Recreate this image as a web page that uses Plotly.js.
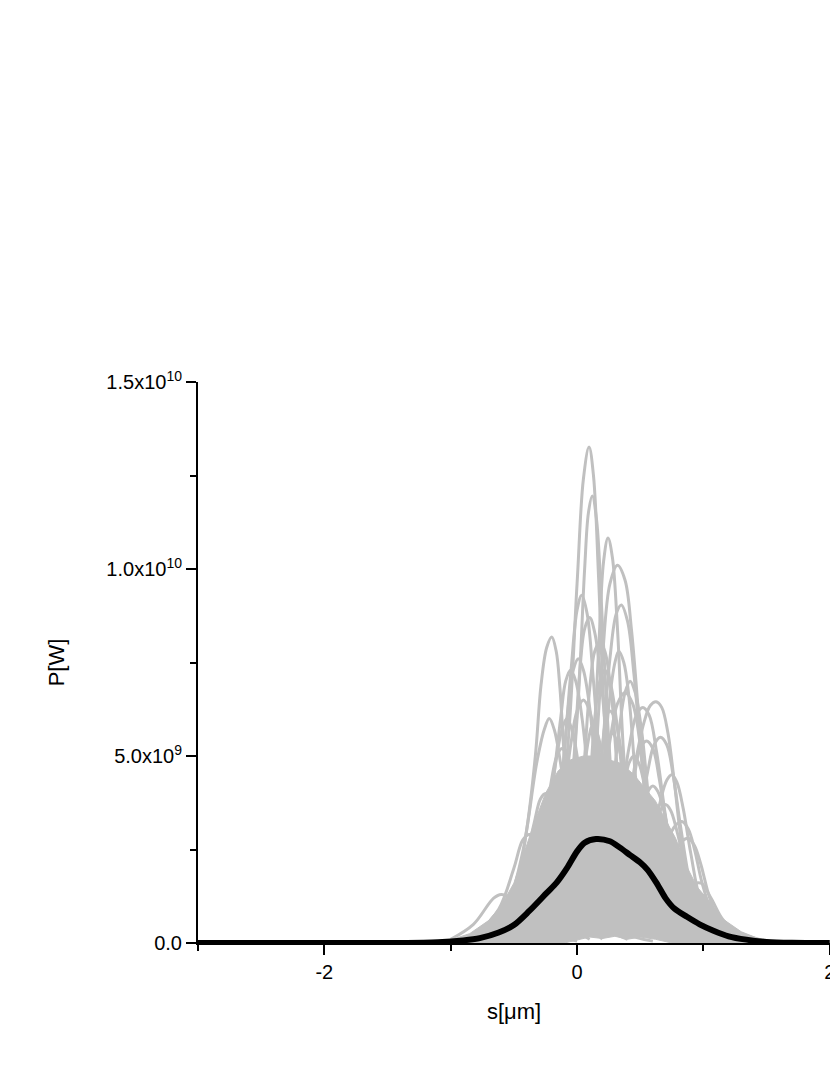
<!DOCTYPE html>
<html>
<head>
<meta charset="utf-8">
<script src="https://cdn.plot.ly/plotly-3.0.1.min.js"></script>
<style>
  body { margin: 0; background: #fff; }
  #chart { width: 830px; height: 1075px; }
</style>
</head>
<body>
<div id="chart"></div>
<script>
// power values below are in units of 1e9 W

// dense grey band under all shots: upper outline, then lower outline back
const coreTopS = [-1.2, -1.0, -0.85, -0.7, -0.6, -0.5, -0.42, -0.35, -0.25, -0.15, -0.05, 0.05, 0.15, 0.25, 0.35, 0.45, 0.55, 0.62, 0.7, 0.78, 0.86, 0.95, 1.05, 1.15, 1.3, 1.45, 1.65];
const coreTopP = [0, 0.08, 0.25, 0.6, 1.0, 1.6, 2.4, 3.1, 4.0, 4.6, 4.9, 5.0, 5.0, 4.9, 4.8, 4.5, 4.1, 3.8, 3.3, 2.8, 2.1, 1.5, 1.1, 0.65, 0.3, 0.1, 0];
const coreLowS = [0.75, 0.62, 0.5, 0.4, 0.3, 0.2, 0.1, 0.0, -0.1, -1.2];
const coreLowP = [0, 0.1, 0.16, 0.1, 0.18, 0.12, 0.16, 0.08, 0, 0];

// single shots, [s, P] pairs
const shots = [
    [[-0.4,0.5],[-0.2,2.0],[-0.08,5.0],[0.0,9.6],[0.05,12.4],[0.095,13.26],[0.13,12.5],[0.17,9.8],[0.21,6.5],[0.28,3.0],[0.45,1.0],[0.7,0.2]],
    [[-0.3,0.6],[-0.1,2.5],[0.0,6.0],[0.06,10.0],[0.09,11.5],[0.12,11.95],[0.155,11.3],[0.2,8.6],[0.25,5.5],[0.33,2.5],[0.5,0.8],[0.75,0.2]],
    [[0.0,1.0],[0.1,3.5],[0.17,7.8],[0.21,10.2],[0.245,10.83],[0.28,10.3],[0.32,8.4],[0.37,5.0],[0.45,2.0],[0.6,0.5]],
    [[0.0,1.5],[0.12,4.0],[0.2,7.6],[0.26,9.6],[0.32,10.1],[0.38,9.7],[0.43,8.4],[0.49,6.0],[0.57,3.0],[0.7,1.0],[0.9,0.2]],
    [[0.05,1.5],[0.18,4.5],[0.26,7.6],[0.31,8.8],[0.35,9.04],[0.4,8.6],[0.45,7.2],[0.52,4.6],[0.62,1.8],[0.8,0.3]],
    [[-0.3,1.0],[-0.15,3.5],[-0.05,7.2],[0.0,8.9],[0.037,9.3],[0.08,8.8],[0.13,7.0],[0.19,4.5],[0.28,2.0],[0.45,0.5]],
    [[-0.65,0.3],[-0.5,1.2],[-0.4,3.0],[-0.33,5.0],[-0.285,6.9],[-0.24,7.9],[-0.2,8.18],[-0.165,7.8],[-0.135,6.8],[-0.09,4.5],[0.0,2.0],[0.15,0.6],[0.4,0.1]],
    [[-0.2,1.0],[-0.05,4.0],[0.02,7.2],[0.06,8.4],[0.1,8.7],[0.14,8.3],[0.19,7.0],[0.26,4.5],[0.36,2.0],[0.5,0.5]],
    [[-0.1,1.0],[0.03,3.8],[0.1,6.8],[0.14,7.8],[0.18,8.05],[0.22,7.8],[0.27,6.7],[0.33,4.2],[0.43,1.6],[0.6,0.3]],
    [[0.0,0.8],[0.15,2.8],[0.26,5.4],[0.32,6.4],[0.38,6.7],[0.44,6.4],[0.5,5.3],[0.56,3.6],[0.65,1.5],[0.8,0.3]],
    [[0.2,0.8],[0.35,2.5],[0.46,4.8],[0.53,5.9],[0.58,6.35],[0.625,6.45],[0.67,6.3],[0.72,5.6],[0.77,4.3],[0.83,2.6],[0.92,1.0],[1.05,0.3]],
    [[0.15,0.8],[0.3,2.8],[0.41,5.2],[0.47,6.1],[0.52,6.3],[0.57,6.1],[0.63,5.1],[0.7,3.4],[0.79,1.6],[0.92,0.4]],
    [[0.3,0.8],[0.45,2.5],[0.56,4.6],[0.61,5.3],[0.66,5.5],[0.71,5.3],[0.76,4.5],[0.82,3.1],[0.9,1.5],[1.0,0.4]],
    [[0.45,0.6],[0.6,1.6],[0.71,2.7],[0.78,3.15],[0.83,3.25],[0.88,3.05],[0.93,2.5],[0.99,1.6],[1.07,0.8],[1.2,0.2]],
    [[0.5,0.5],[0.65,1.5],[0.77,2.4],[0.83,2.72],[0.88,2.8],[0.93,2.6],[0.98,2.1],[1.05,1.2],[1.14,0.5],[1.3,0.1]],
    [[-0.8,0.2],[-0.62,0.9],[-0.5,2.0],[-0.43,2.75],[-0.38,2.9],[-0.33,2.8],[-0.27,2.3],[-0.18,1.4],[-0.06,0.5],[0.1,0.1]],
    [[-1.0,0.1],[-0.82,0.5],[-0.66,1.2],[-0.6,1.3],[-0.53,1.2],[-0.42,0.8],[-0.25,0.3],[0.0,0.05]],
    [[-0.35,1.0],[-0.22,3.5],[-0.13,6.0],[-0.09,7.0],[-0.05,7.3],[-0.01,7.0],[0.04,6.0],[0.11,3.8],[0.21,1.5],[0.35,0.3]],
    [[-0.3,0.8],[-0.15,2.8],[-0.05,5.3],[0.0,6.2],[0.05,6.5],[0.1,6.2],[0.15,5.3],[0.23,3.0],[0.33,1.2],[0.5,0.2]],
    [[-0.05,1.0],[0.08,3.5],[0.14,6.0],[0.18,7.0],[0.22,7.3],[0.26,7.0],[0.31,6.0],[0.38,3.8],[0.47,1.5],[0.6,0.3]],
    [[0.0,0.8],[0.12,2.6],[0.2,4.6],[0.24,5.35],[0.28,5.6],[0.32,5.35],[0.37,4.6],[0.44,3.0],[0.54,1.2],[0.68,0.2]],
    [[0.15,0.6],[0.28,2.2],[0.37,4.1],[0.41,4.8],[0.45,5.0],[0.49,4.8],[0.54,4.1],[0.61,2.8],[0.71,1.2],[0.85,0.2]],
    [[-0.45,0.6],[-0.3,2.2],[-0.21,4.2],[-0.16,5.0],[-0.12,5.2],[-0.08,5.0],[-0.03,4.3],[0.05,2.8],[0.15,1.2],[0.3,0.2]],
    [[0.25,0.5],[0.4,1.8],[0.51,3.5],[0.56,4.05],[0.6,4.2],[0.64,4.05],[0.69,3.5],[0.76,2.3],[0.86,1.0],[1.0,0.2]],
    [[0.35,0.5],[0.5,1.6],[0.61,3.0],[0.66,3.55],[0.7,3.7],[0.74,3.55],[0.79,3.0],[0.86,2.0],[0.96,0.9],[1.1,0.2]],
    [[-0.6,0.4],[-0.45,1.6],[-0.34,3.2],[-0.29,3.85],[-0.25,4.0],[-0.21,3.85],[-0.16,3.3],[-0.07,2.0],[0.05,0.8],[0.2,0.1]],
    [[-0.15,0.6],[-0.02,2.2],[0.07,3.9],[0.11,4.45],[0.15,4.6],[0.19,4.45],[0.24,3.9],[0.31,2.5],[0.41,1.0],[0.55,0.2]],
    [[0.05,1.0],[0.18,3.8],[0.26,6.6],[0.3,7.5],[0.33,7.8],[0.37,7.5],[0.41,6.6],[0.47,4.2],[0.57,1.6],[0.7,0.3]],
    [[-0.3,1.0],[-0.15,3.5],[-0.07,6.3],[-0.03,7.3],[0.01,7.6],[0.05,7.3],[0.1,6.3],[0.17,3.8],[0.27,1.4],[0.42,0.2]],
    [[0.0,0.4],[0.2,1.2],[0.38,2.2],[0.5,2.5],[0.62,2.2],[0.78,1.3],[0.95,0.5],[1.15,0.1]],
    [[-0.7,0.2],[-0.45,0.9],[-0.28,1.8],[-0.15,2.2],[0.0,1.8],[0.15,1.0],[0.35,0.3],[0.6,0.05]],
    [[0.55,0.3],[0.72,0.9],[0.88,1.5],[0.98,1.6],[1.06,1.2],[1.16,0.6],[1.3,0.25],[1.5,0.05]],
    [[-0.4,0.8],[-0.27,2.6],[-0.17,4.8],[-0.12,5.7],[-0.08,6.0],[-0.04,5.7],[0.01,4.8],[0.08,3.0],[0.18,1.2],[0.35,0.2]],
    [[-0.15,0.8],[-0.02,2.8],[0.07,5.0],[0.1,5.6],[0.12,5.8],[0.16,5.6],[0.21,4.8],[0.29,2.8],[0.4,1.0],[0.55,0.2]],
    [[0.1,0.8],[0.24,3.0],[0.33,5.6],[0.38,6.7],[0.42,7.0],[0.46,6.7],[0.51,5.7],[0.58,3.5],[0.68,1.4],[0.82,0.3]],
    [[0.2,0.6],[0.34,2.3],[0.45,4.4],[0.5,5.2],[0.55,5.4],[0.6,5.2],[0.65,4.4],[0.72,2.9],[0.82,1.2],[0.95,0.3]],
    [[-0.55,0.8],[-0.42,2.6],[-0.32,4.8],[-0.26,5.7],[-0.22,6.0],[-0.18,5.7],[-0.13,4.8],[-0.05,3.0],[0.06,1.2],[0.22,0.2]],
    [[-0.02,0.8],[0.11,2.8],[0.2,5.2],[0.23,6.0],[0.26,6.2],[0.3,6.0],[0.35,5.1],[0.42,3.2],[0.52,1.3],[0.66,0.2]],
    [[0.4,0.6],[0.55,2.0],[0.66,3.8],[0.71,4.35],[0.75,4.5],[0.79,4.3],[0.84,3.6],[0.9,2.4],[0.98,1.1],[1.1,0.3]],
    [[-0.35,0.5],[-0.2,1.9],[-0.1,3.6],[-0.05,4.1],[-0.02,4.2],[0.03,4.05],[0.08,3.5],[0.16,2.2],[0.27,0.9],[0.42,0.2]],
    [[-0.3,0.1],[0.0,0.5],[0.3,1.0],[0.6,0.7],[0.9,0.25],[1.2,0.05]],
    [[-0.1,0.1],[0.2,0.4],[0.5,0.6],[0.8,0.4],[1.1,0.1]]
];

// average over all shots (black)
const meanS = [-3, -1.4, -1.1, -0.9, -0.77, -0.62, -0.5, -0.38, -0.24, -0.16, -0.08, 0.0, 0.06, 0.15, 0.26, 0.34, 0.42, 0.5, 0.56, 0.63, 0.7, 0.77, 0.87, 0.97, 1.08, 1.2, 1.34, 1.5, 1.7, 2];
const meanP = [0, 0.0, 0.02, 0.07, 0.13, 0.28, 0.48, 0.85, 1.34, 1.62, 2.0, 2.45, 2.68, 2.78, 2.72, 2.55, 2.35, 2.15, 1.95, 1.6, 1.2, 0.92, 0.7, 0.5, 0.33, 0.18, 0.09, 0.03, 0.005, 0];

const xTickVals = [-2, 0, 2];
const xTickText = ["-2", "0", "2"];
const yTickVals = [0, 5e9, 1e10, 1.5e10];
const yTickText = ["0.0", "5.0x10<sup>9</sup>", "1.0x10<sup>10</sup>", "1.5x10<sup>10</sup>"];

const GW = 1e9;
const grey = "rgb(192,192,192)";

function toWatts(arr) {
    return arr.map(function (v) { return v * GW; });
}

const data = [];

data.push({
    x: coreTopS.concat(coreLowS),
    y: toWatts(coreTopP.concat(coreLowP)),
    mode: "lines", fill: "toself", fillcolor: grey,
    line: {color: grey, width: 1},
    hoverinfo: "skip"
});

for (let i = 0; i < shots.length; i++) {
    data.push({
        x: shots[i].map(function (p) { return p[0]; }),
        y: shots[i].map(function (p) { return p[1] * GW; }),
        mode: "lines",
        line: {color: grey, width: 3, shape: "spline", smoothing: 1},
        hoverinfo: "skip"
    });
}

data.push({
    x: meanS, y: toWatts(meanP),
    mode: "lines",
    line: {color: "black", width: 6, shape: "spline", smoothing: 0.8}
});

const fontFamily = "Liberation Sans, Arial, sans-serif";
const tickFont = {family: fontFamily, size: 20, color: "black"};

const layout = {
    width: 830,
    height: 1075,
    margin: {l: 198, r: 0, t: 382, b: 132},
    paper_bgcolor: "white",
    plot_bgcolor: "white",
    showlegend: false,
    font: tickFont,
    xaxis: {
        range: [-3, 2.002],
        tickvals: xTickVals, ticktext: xTickText,
        ticklabeloverflow: "allow",
        showgrid: false, zeroline: false,
        showline: true, linecolor: "black", linewidth: 2,
        ticks: "outside", ticklen: 10, tickwidth: 2, tickcolor: "black",
        minor: {tickvals: [-3, -1, 1], ticks: "outside", ticklen: 6, tickwidth: 2, tickcolor: "black", showgrid: false},
        tickfont: tickFont,
        title: {text: "s[μm]", font: {family: fontFamily, size: 22, color: "black"}, standoff: 22},
        automargin: false
    },
    yaxis: {
        range: [0, 1.5e10],
        tickvals: yTickVals, ticktext: yTickText,
        showgrid: false, zeroline: false,
        showline: true, linecolor: "black", linewidth: 2,
        ticks: "outside", ticklen: 10, tickwidth: 2, tickcolor: "black",
        minor: {tickvals: [2.5e9, 7.5e9, 1.25e10], ticks: "outside", ticklen: 6, tickwidth: 2, tickcolor: "black", showgrid: false},
        tickfont: tickFont,
        title: {text: "P[W]", font: {family: fontFamily, size: 22, color: "black"}, standoff: 36},
        automargin: false
    }
};

const config = {
    displayModeBar: false,
    staticPlot: true
};

Plotly.newPlot("chart", data, layout, config);
</script>
</body>
</html>
